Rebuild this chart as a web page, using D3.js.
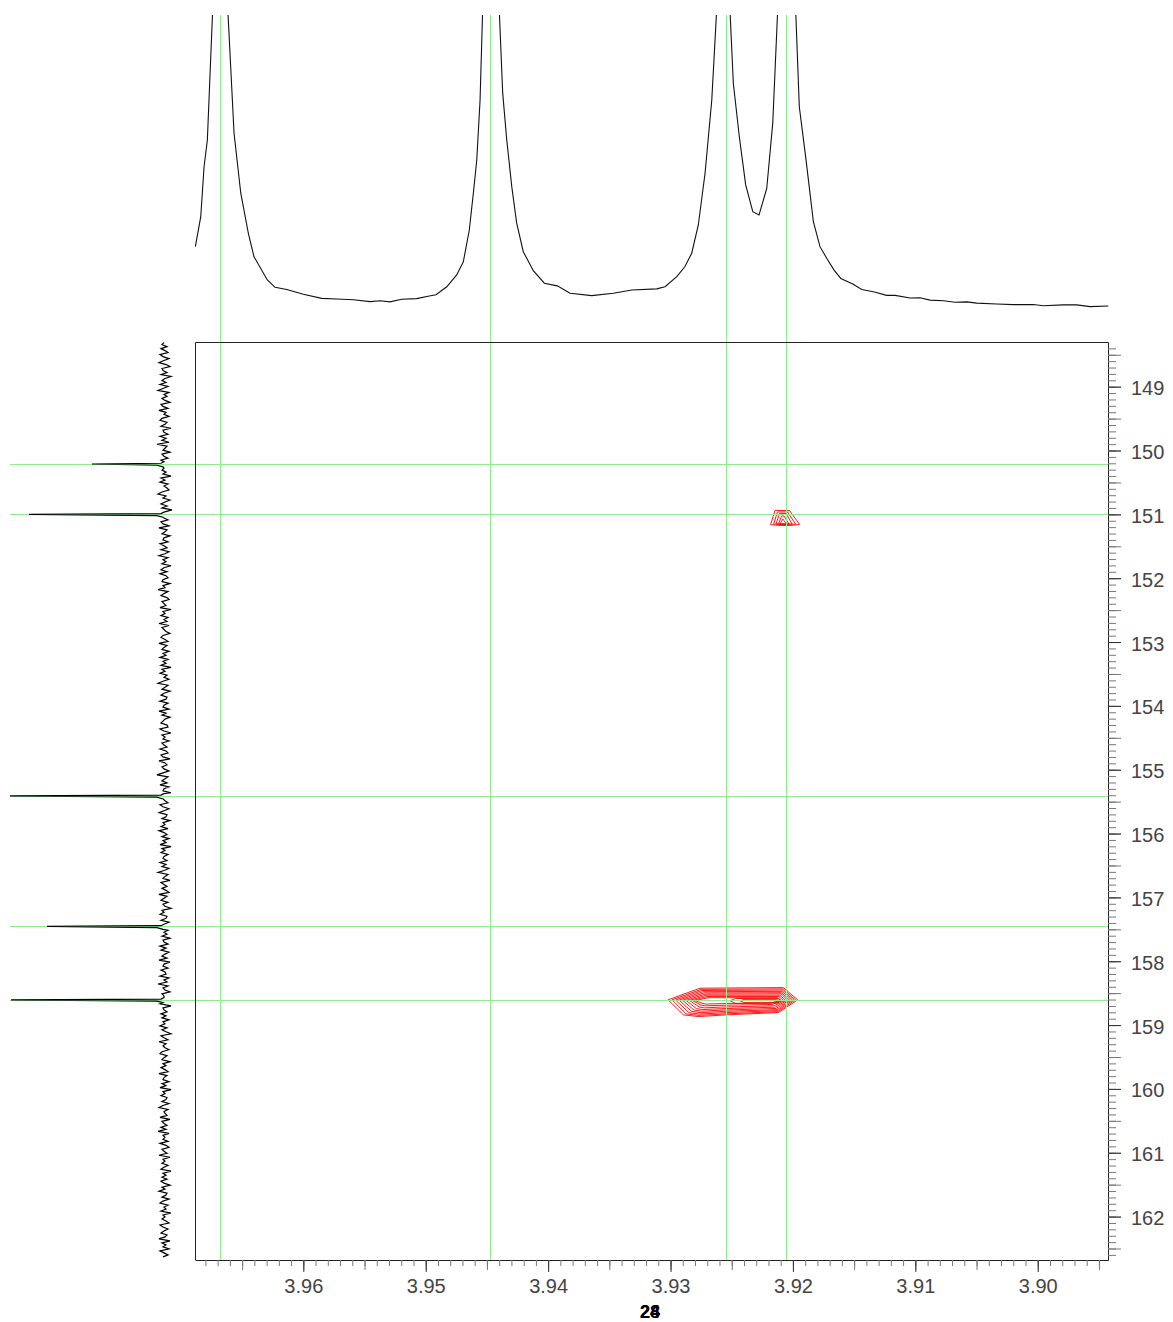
<!DOCTYPE html>
<html>
<head>
<meta charset="utf-8">
<script src="https://cdn.jsdelivr.net/npm/d3@7"></script>
<style>
  html, body { margin: 0; padding: 0; background: #fff; }
  svg { display: block; }
</style>
</head>
<body>
<svg id="chart" width="1173" height="1322"></svg>
<script>
// ---- 1H projection (top trace): chemical shift (ppm) and intensity (% of view) ----
const protonPpm = [
  3.96882, 3.96838, 3.96811, 3.96784, 3.96734, 3.96676, 3.96623, 3.96566, 3.96511, 3.96449,
  3.96403, 3.96294, 3.96231, 3.96136, 3.96000, 3.95850, 3.95727, 3.95592, 3.95455, 3.95373,
  3.95292, 3.95196, 3.95074, 3.94971, 3.94916, 3.94828, 3.94747, 3.94693, 3.94644, 3.94611,
  3.94583, 3.94556, 3.94528, 3.94479, 3.94413, 3.94371, 3.94338, 3.94297, 3.94257, 3.94203,
  3.94121, 3.94031, 3.93925, 3.93821, 3.93644, 3.93467, 3.93317, 3.93113, 3.93045, 3.92949,
  3.92882, 3.92827, 3.92773, 3.92718, 3.92663, 3.92612, 3.92567, 3.92522, 3.92487, 3.92438,
  3.92386, 3.92328, 3.92277, 3.92214, 3.92165, 3.92114, 3.92052, 3.91987, 3.91948, 3.91893,
  3.91833, 3.91779, 3.91724, 3.91664, 3.91609, 3.91511, 3.91438, 3.91343, 3.91234, 3.91166,
  3.91043, 3.90962, 3.90880, 3.90771, 3.90676, 3.90580, 3.90498, 3.90335, 3.90199, 3.90036,
  3.89954, 3.89791, 3.89681, 3.89573, 3.89423
];
const protonIntensity = [
  22.0, 32.1, 48.9, 57.9, 108.4, 300, 106.7, 60.2, 40.0, 26.5,
  18.6, 10.8, 8.3, 7.6, 6.0, 4.6, 4.4, 4.1, 3.5, 3.8,
  3.4, 4.3, 4.5, 5.4, 5.8, 8.5, 12.5, 16.9, 27.6, 40.0,
  51.2, 71.4, 111.8, 240, 115.2, 73.6, 57.9, 42.2, 29.9, 20.3,
  13.9, 9.7, 8.8, 6.3, 5.5, 6.3, 7.4, 7.8, 8.5, 11.9,
  15.3, 19.8, 29.3, 46.7, 71.4, 110.1, 206, 108.4, 77.0, 59.0,
  42.8, 33.8, 32.7, 41.6, 63.5, 111.8, 240, 111.8, 69.1, 51.2,
  30.4, 22.0, 18.1, 14.1, 11.3, 9.4, 7.6, 6.8, 5.6, 5.6,
  4.7, 4.8, 4.0, 3.8, 3.3, 3.4, 3.0, 2.7, 2.5, 2.5,
  2.1, 2.4, 2.4, 1.8, 2.0
];

// ---- 13C projection (left trace) ----
const carbonStart = 148.31;   // ppm of first baseline sample
const carbonStep = 0.0312;    // ppm between baseline samples
const carbonBaseline = [
  1,3,-2,4,0,-3,5,2,-4,1,6,-1,-5,3,2,-2,4,-6,0,3,
  -1,5,-3,2,7,-4,1,-2,3,0,-5,4,2,-3,6,-1,1,-4,3,5,
  -2,0,4,-6,2,1,-3,5,-1,3,-4,8,-2,0,2,-5,3,1,-3,4,
  6,-2,-4,1,3,-1,2,-6,4,0,5,-3,1,-2,-4,3,7,-1,2,-5,
  0,4,-2,3,-7,2,5,-1,1,-3,4,2,-4,6,-2,0,3,-5,1,2,
  -3,5,1,-2,4,-4,0,6,-3,2,-1,3,-6,1,4,-2,5,-1,-3,2,
  3,-5,2,0,7,-3,1,4,-2,-4,3,1,-1,5,-6,2,0,4,-3,1,
  -2,6,-4,3,1,-1,-5,2,4,0,-3,6,-2,1,3,-4,2,-1,5,-3,
  2,-1,4,-6,3,0,5,-2,1,-4,2,7,-3,0,3,-5,1,4,-2,-1,
  5,-3,1,2,-4,6,-1,3,-5,0,2,4,-2,-3,5,1,-6,3,0,2,
  -4,3,1,-2,5,-1,-3,4,2,-5,6,0,-2,3,1,-4,2,8,-3,0,
  3,-2,5,-4,1,2,-6,4,-1,3,0,-3,5,2,-4,1,6,-2,-1,3,
  -5,2,0,4,-3,6,1,-2,3,-4,2,-1,5,-6,3,0,4,-3,1,2,
  -2,5,-1,3,-4,1,7,-3,0,2,-5,4,1,-2,3,-1,-4,6,-2,1,
  4,-3,2,0,-6,3,1,5,-2,-1,4,-4,2,0,6,-3,1,-2,3,-5,
  2,1,-3,5,-1,4,-4,0,3,-2,6,-5,1,2,-3,4,0,-1,5,-4,
  1,-2,7,-3,2,0,-5,3,1,-1,4,-3,5,-6,2,1,-2,4,-1,3,
  -4,2,0,5,-2,3,-1,-6,4,1,-3,6,-1,2,0,-4,3,5,-2,1,
  3,-5,2,-1,4,0,-3,6,-2,1,2,-4,3,-1,5,-6,2,0,4,-2,
  -1,3,-4,2,6,-3,1,0,-2,5,-5,3,1,-2,4,-1,7,-4,2,0,
  2,-3,5,-1,-4,3,1,-2,6,-5,2,0,3,-3,1,4,-6,2,-1,3,
  -2,4,1,-5,3,0,6,-2,-1,3,-4,2,5,-3,1,-1,4,-6,2,0,
  3,-1,-4,5,2,-3,1,4,-2,0,6,-5,3,-1,2,-4,5,1,-3,2
];
const carbonPeakPpm = [150.211, 151.000, 155.410, 157.455, 158.605];
const carbonPeakHeight = [73, 136, 170, 118, 154];

// ---- cursor lines through the resonances ----
const markerProton = [3.96681, 3.94475, 3.92547, 3.92056];
const markerCarbon = [150.211, 151.000, 155.410, 157.455, 158.605];

// ---- cross-peak contour levels, outermost first: [1H ppm, 13C ppm] ----
const crossPeakA = [
  [[3.92146,150.939],[3.92028,150.939],[3.91946,151.158],[3.92024,151.174],[3.92097,151.174],[3.92183,151.163]],
  [[3.92126,150.962],[3.92044,150.962],[3.91979,151.153],[3.92158,151.153]],
  [[3.92110,150.986],[3.92056,150.986],[3.92007,151.153],[3.92138,151.153]],
  [[3.92093,151.025],[3.92073,151.025],[3.92032,151.153],[3.92118,151.153]],
  [[3.92083,151.072],[3.92052,151.153],[3.92106,151.153]]
];
const crossPeakB = [
  [[3.93020,158.605],[3.92759,158.422],[3.92078,158.413],[3.91961,158.605],[3.92119,158.804],[3.92541,158.840],[3.92773,158.867],[3.92895,158.840]],
  [[3.92988,158.605],[3.92751,158.441],[3.92081,158.433],[3.91979,158.605],[3.92122,158.790],[3.92547,158.825],[3.92767,158.848],[3.92873,158.825]],
  [[3.92959,158.608],[3.92743,158.458],[3.92085,158.452],[3.91995,158.605],[3.92126,158.774],[3.92555,158.806],[3.92759,158.828],[3.92849,158.806]],
  [[3.92931,158.610],[3.92734,158.477],[3.92089,158.472],[3.92011,158.605],[3.92130,158.759],[3.92563,158.785],[3.92751,158.806],[3.92828,158.785]],
  [[3.92902,158.611],[3.92726,158.496],[3.92093,158.493],[3.92028,158.608],[3.92138,158.740],[3.92571,158.765],[3.92743,158.782],[3.92808,158.765]],
  [[3.92873,158.613],[3.92718,158.515],[3.92097,158.511],[3.92044,158.610],[3.92146,158.720],[3.92580,158.743],[3.92734,158.757],[3.92788,158.743]],
  [[3.92845,158.614],[3.92710,158.533],[3.92106,158.532],[3.92060,158.611],[3.92155,158.699],[3.92588,158.718],[3.92726,158.731],[3.92767,158.715]],
  [[3.92820,158.616],[3.92702,158.552],[3.92114,158.552],[3.92077,158.613],[3.92171,158.677],[3.92596,158.691],[3.92718,158.699],[3.92751,158.688]],
  [[3.92800,158.618],[3.92694,158.571],[3.92130,158.571],[3.92097,158.614],[3.92187,158.655],[3.92604,158.665],[3.92710,158.671],[3.92734,158.662]],
  [[3.92514,158.620],[3.92470,158.584],[3.92120,158.582],[3.92097,158.618],[3.92125,158.655],[3.92470,158.660]],
  [[3.92432,158.620],[3.92400,158.598],[3.92135,158.597],[3.92114,158.620],[3.92135,158.643],[3.92400,158.645]]
];

// ---- axis ticks ----
const protonTicks = [3.96, 3.95, 3.94, 3.93, 3.92, 3.91, 3.90];
const carbonTicks = [149,150,151,152,153,154,155,156,157,158,159,160,161,162];
const footLabels = ["28", "24"];

// ---------------------------------------------------------------
const svg = d3.select("#chart");
const plot = { left: 195, right: 1108, top: 342, bottom: 1260 };
const FONT = "'Liberation Sans', Arial, Helvetica, sans-serif";
const CURSOR = "#90ee90";

const x = d3.scaleLinear().domain([3.96885, 3.89426]).range([plot.left, plot.right]);
const y = d3.scaleLinear().domain([148.30, 162.68]).range([plot.top, plot.bottom]);
const topY = d3.scaleLinear().domain([0, 100]).range([312, 15]);
const sideX = d3.scaleLinear().domain([0, 155]).range([165, 10]);

const defs = svg.append("defs");
defs.append("clipPath").attr("id", "clipTop")
  .append("rect").attr("x", plot.left).attr("y", 15).attr("width", plot.right - plot.left + 1).attr("height", 320);
defs.append("clipPath").attr("id", "clipSide")
  .append("rect").attr("x", 10).attr("y", plot.top).attr("width", 180).attr("height", plot.bottom - plot.top);
defs.append("clipPath").attr("id", "clipPlot")
  .append("rect").attr("x", plot.left).attr("y", plot.top).attr("width", plot.right - plot.left).attr("height", plot.bottom - plot.top);

// contour levels
const ring = d3.line().x(d => x(d[0])).y(d => y(d[1])).curve(d3.curveLinearClosed);
const cg = svg.append("g").attr("clip-path", "url(#clipPlot)")
  .attr("fill", "none").attr("stroke", "#ff0000").attr("stroke-width", 0.9);
cg.selectAll("path.a").data(crossPeakA).join("path").attr("class", "a").attr("d", ring);
cg.selectAll("path.b").data(crossPeakB).join("path").attr("class", "b").attr("d", ring);

// cursor lines, snapped to whole pixels
const snap = v => Math.round(v) + 0.5;
const gl = svg.append("g").attr("stroke", CURSOR).attr("stroke-width", 1);
gl.selectAll("line.v").data(markerProton).join("line").attr("class", "v")
  .attr("x1", d => snap(x(d))).attr("x2", d => snap(x(d)))
  .attr("y1", 15).attr("y2", plot.bottom);
gl.selectAll("line.h").data(markerCarbon).join("line").attr("class", "h")
  .attr("y1", d => snap(y(d))).attr("y2", d => snap(y(d)))
  .attr("x1", 10).attr("x2", plot.right);

// top 1H trace
const protonPts = protonPpm.map((p, i) => [p, protonIntensity[i]]);
svg.append("path").datum(protonPts)
  .attr("clip-path", "url(#clipTop)")
  .attr("fill", "none").attr("stroke", "#111").attr("stroke-width", 1.1)
  .attr("d", d3.line().x(d => x(d[0])).y(d => topY(d[1])));

// left 13C trace: baseline samples with the resonances laid in
let carbonPts = carbonBaseline.map((v, i) => [carbonStart + i * carbonStep, v])
  .filter(d => carbonPeakPpm.every(p => Math.abs(d[0] - p) > 0.04));
carbonPeakPpm.forEach((p, i) => {
  const h = carbonPeakHeight[i];
  carbonPts.push([p - 0.035, 1], [p - 0.012, 4], [p, h], [p + 0.02, 8], [p + 0.045, 2]);
});
carbonPts.sort((a, b) => a[0] - b[0]);
svg.append("path").datum(carbonPts)
  .attr("clip-path", "url(#clipSide)")
  .attr("fill", "none").attr("stroke", "#000").attr("stroke-width", 1.2)
  .attr("d", d3.line().x(d => sideX(d[1])).y(d => y(d[0])));

// frame (left & top edges; the axes close the box)
svg.append("path")
  .attr("d", `M${plot.left + 0.5},${plot.bottom}V${plot.top + 0.5}H${plot.right + 0.5}`)
  .attr("fill", "none").attr("stroke", "#222").attr("stroke-width", 1);

// bottom axis (1H)
const minorX = d3.range(3895, 3969).map(v => v / 1000);
const midX = minorX.filter(v => Math.round(v * 1000) % 5 === 0);
function styleAxis(g, color) {
  g.selectAll(".tick line").attr("stroke", color);
  g.select(".domain").attr("stroke", "#222");
}
const gxMinor = svg.append("g").attr("transform", `translate(0,${plot.bottom})`)
  .call(d3.axisBottom(x).tickValues(minorX).tickSize(6).tickSizeOuter(0).tickFormat(""));
styleAxis(gxMinor, "#777");
const gxMid = svg.append("g").attr("transform", `translate(0,${plot.bottom})`)
  .call(d3.axisBottom(x).tickValues(midX).tickSize(10).tickSizeOuter(0).tickFormat(""));
styleAxis(gxMid, "#777");
gxMid.select(".domain").remove();
const gx = svg.append("g").attr("transform", `translate(0,${plot.bottom})`)
  .call(d3.axisBottom(x).tickValues(protonTicks).tickSize(12).tickSizeOuter(0).tickPadding(7)
    .tickFormat(d3.format(".2f")));
styleAxis(gx, "#333");
gx.select(".domain").remove();
gx.selectAll("text").attr("fill", "#444").attr("font-size", 20).attr("font-family", FONT);

// right axis (13C)
const minorY = d3.range(1484, 1627).map(v => v / 10);
const midY = minorY.filter(v => Math.round(v * 10) % 5 === 0);
const gyMinor = svg.append("g").attr("transform", `translate(${plot.right},0)`)
  .call(d3.axisRight(y).tickValues(minorY).tickSize(8).tickSizeOuter(0).tickFormat(""));
styleAxis(gyMinor, "#777");
const gyMid = svg.append("g").attr("transform", `translate(${plot.right},0)`)
  .call(d3.axisRight(y).tickValues(midY).tickSize(13).tickSizeOuter(0).tickFormat(""));
styleAxis(gyMid, "#777");
gyMid.select(".domain").remove();
const gy = svg.append("g").attr("transform", `translate(${plot.right},0)`)
  .call(d3.axisRight(y).tickValues(carbonTicks).tickSize(13).tickSizeOuter(0).tickPadding(10)
    .tickFormat(d3.format("d")));
styleAxis(gy, "#333");
gy.select(".domain").remove();
gy.selectAll("text").attr("fill", "#444").attr("font-size", 20).attr("font-family", FONT).attr("dy", "0.4em");

// overlapping experiment numbers under the axis
svg.append("g").selectAll("text").data(footLabels).join("text")
  .attr("x", 650).attr("y", 1318).attr("text-anchor", "middle")
  .attr("font-family", FONT).attr("font-weight", "bold").attr("font-size", 18).attr("fill", "#000")
  .text(d => d);
</script>
</body>
</html>
